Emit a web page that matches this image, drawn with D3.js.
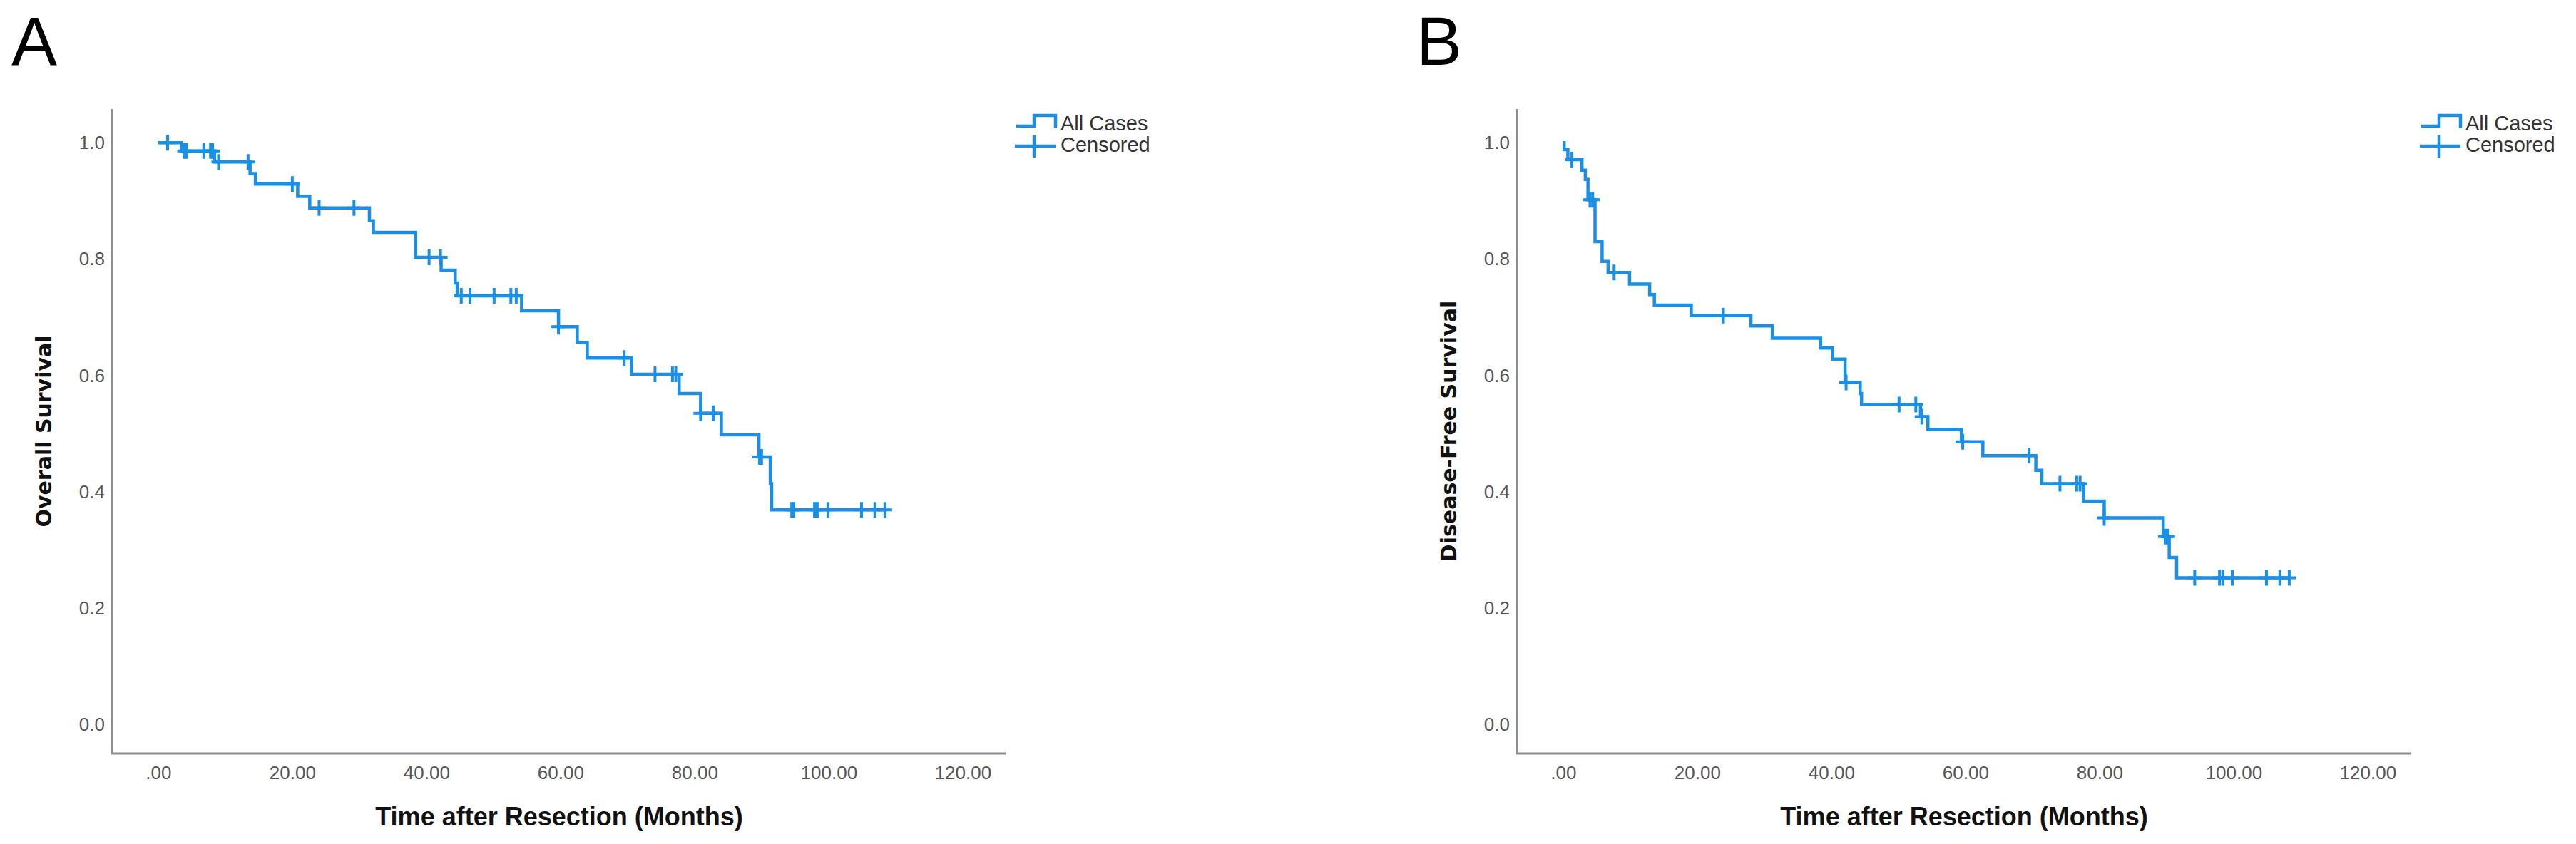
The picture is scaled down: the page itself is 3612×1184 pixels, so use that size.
<!DOCTYPE html>
<html>
<head>
<meta charset="utf-8">
<script src="https://cdn.jsdelivr.net/npm/d3@7"></script>
<style>
  html, body { margin: 0; padding: 0; background: #ffffff; }
  svg { display: block; }
</style>
</head>
<body>
<svg id="chart" width="3612" height="1184"></svg>
<script>
// ---------------- DATA ----------------
const timeTicks = [0, 20, 40, 60, 80, 100, 120];
const timeTickLabels = [".00", "20.00", "40.00", "60.00", "80.00", "100.00", "120.00"];
const survTicks = [0.0, 0.2, 0.4, 0.6, 0.8, 1.0];
const survTickLabels = ["0.0", "0.2", "0.4", "0.6", "0.8", "1.0"];

const panelLetters = ["A", "B"];
const yTitles = ["Overall Survival", "Disease-Free Survival"];
const xTitle = "Time after Resection (Months)";
const legendLabels = ["All Cases", "Censored"];

// Panel A: Overall survival (event times, survival after each event)
const osEventTimes = [3.5, 8.4, 13.7, 14.5, 20.8, 22.6, 31.5, 32.1, 38.4, 42.2, 44.3, 44.6, 54.2, 59.7, 62.5, 64.0, 70.6, 77.7, 80.9, 84.0, 89.6, 91.3, 91.5];
const osSurvival   = [0.986, 0.967, 0.947, 0.929, 0.908, 0.888, 0.866, 0.846, 0.803, 0.781, 0.759, 0.737, 0.711, 0.684, 0.657, 0.630, 0.602, 0.569, 0.535, 0.498, 0.460, 0.414, 0.369];
const osCensorTimes = [1.4, 3.9, 4.2, 6.8, 7.8, 8.1, 9.0, 13.4, 20.0, 24.0, 29.2, 40.4, 42.1, 45.2, 46.5, 50.1, 52.6, 53.4, 59.7, 69.5, 74.1, 76.7, 77.2, 80.9, 82.8, 89.7, 90.0, 94.5, 94.8, 97.9, 98.3, 99.9, 104.9, 106.9, 108.4];
const osEndTime = 108.4;

// Panel B: Disease-free survival
const dfsEventTimes = [0.14, 0.7, 2.8, 3.3, 3.7, 4.75, 5.8, 6.7, 9.9, 12.9, 13.6, 19.1, 28.0, 31.2, 38.4, 40.2, 42.05, 44.3, 44.5, 53.3, 54.4, 59.4, 62.6, 70.5, 71.4, 77.6, 80.7, 89.5, 90.4, 91.5];
const dfsSurvival   = [0.988, 0.971, 0.953, 0.937, 0.902, 0.830, 0.796, 0.777, 0.757, 0.739, 0.721, 0.703, 0.685, 0.664, 0.647, 0.628, 0.588, 0.569, 0.550, 0.529, 0.507, 0.486, 0.462, 0.437, 0.414, 0.384, 0.355, 0.323, 0.287, 0.252];
const dfsCensorTimes = [1.3, 4.0, 4.4, 7.6, 23.9, 42.2, 50.1, 52.6, 53.5, 59.6, 69.5, 74.1, 76.6, 77.1, 80.7, 89.8, 90.2, 94.2, 97.9, 98.4, 99.8, 104.9, 106.9, 108.3];
const dfsEndTime = 108.3;

// ---------------- DRAW ----------------
const svg = d3.select("#chart");
const blue = "#1a8fe5";
const axisGray = "#8e8e8e";

const panels = [
  { dx: 0,    letter: panelLetters[0], yTitle: yTitles[0], times: osEventTimes,  surv: osSurvival,  censors: osCensorTimes,  end: osEndTime },
  { dx: 1970, letter: panelLetters[1], yTitle: yTitles[1], times: dfsEventTimes, surv: dfsSurvival, censors: dfsCensorTimes, end: dfsEndTime }
];

const x = d3.scaleLinear().domain([-6.9, 126.5]).range([157, 1411]);
const y = d3.scaleLinear().domain([-0.05, 1.058]).range([1057, 153]);

panels.forEach(p => {
  const g = svg.append("g").attr("transform", `translate(${p.dx},0)`);

  // panel letter
  g.append("text")
    .attr("x", 16).attr("y", 91)
    .attr("font-family", "Liberation Sans, Arial, sans-serif")
    .attr("font-size", 96)
    .attr("fill", "#000")
    .text(p.letter);

  // axes lines
  g.append("line")
    .attr("x1", x.range()[0]).attr("x2", x.range()[0])
    .attr("y1", y.range()[1]).attr("y2", y.range()[0])
    .attr("stroke", axisGray).attr("stroke-width", 3);
  g.append("line")
    .attr("x1", x.range()[0] - 1.5).attr("x2", x.range()[1])
    .attr("y1", y.range()[0]).attr("y2", y.range()[0])
    .attr("stroke", axisGray).attr("stroke-width", 3);

  // x axis tick labels
  const xAxis = d3.axisBottom(x).tickValues(timeTicks)
    .tickFormat((d, i) => timeTickLabels[i]).tickSize(0).tickPadding(0);
  const xa = g.append("g").attr("transform", `translate(0,${y.range()[0]})`).call(xAxis);
  xa.select(".domain").remove();
  xa.selectAll("text")
    .attr("dy", null).attr("y", 36)
    .attr("font-family", "Liberation Sans, Arial, sans-serif")
    .attr("font-size", 26).attr("fill", "#555");

  // y axis tick labels
  const yAxis = d3.axisLeft(y).tickValues(survTicks)
    .tickFormat((d, i) => survTickLabels[i]).tickSize(0).tickPadding(10);
  const ya = g.append("g").attr("transform", `translate(${x.range()[0]},0)`).call(yAxis);
  ya.select(".domain").remove();
  ya.selectAll("text")
    .attr("font-family", "Liberation Sans, Arial, sans-serif")
    .attr("font-size", 26).attr("fill", "#555");

  // axis titles
  g.append("text")
    .attr("x", (x.range()[0] + x.range()[1]) / 2).attr("y", 1158)
    .attr("text-anchor", "middle")
    .attr("font-family", "Liberation Sans, Arial, sans-serif")
    .attr("font-weight", "bold").attr("font-size", 36).attr("fill", "#111")
    .text(xTitle);
  g.append("text")
    .attr("transform", `translate(72,${(y.range()[0] + y.range()[1]) / 2}) rotate(-90)`)
    .attr("text-anchor", "middle")
    .attr("font-family", "DejaVu Sans, sans-serif")
    .attr("font-weight", "bold").attr("font-size", 30).attr("fill", "#111")
    .text(p.yTitle);

  // KM step curve
  const pts = [[0, 1.0]].concat(p.times.map((t, i) => [t, p.surv[i]]));
  pts.push([p.end, p.surv[p.surv.length - 1]]);
  const line = d3.line().x(d => x(d[0])).y(d => y(d[1])).curve(d3.curveStepAfter);
  g.append("path").datum(pts)
    .attr("d", line)
    .attr("fill", "none").attr("stroke", blue)
    .attr("stroke-width", 4.5).attr("stroke-linejoin", "miter");

  // censor marks
  const survAt = t => {
    const i = d3.bisectRight(p.times, t);
    return i === 0 ? 1.0 : p.surv[i - 1];
  };
  g.append("g").selectAll("path").data(p.censors).join("path")
    .attr("d", t => {
      const cx = x(t), cy = y(survAt(t));
      return `M${cx - 10},${cy}H${cx + 10}M${cx},${cy - 11}V${cy + 11}`;
    })
    .attr("fill", "none").attr("stroke", blue).attr("stroke-width", 4);

  // legend
  const lg = g.append("g");
  lg.append("path")
    .attr("d", "M1425,177H1450V162H1480V180")
    .attr("fill", "none").attr("stroke", blue).attr("stroke-width", 4.5);
  lg.append("path")
    .attr("d", "M1423,205H1480M1450,190V221")
    .attr("fill", "none").attr("stroke", blue).attr("stroke-width", 4.5);
  lg.selectAll("text").data(legendLabels).join("text")
    .attr("x", 1487).attr("y", (d, i) => 183 + i * 30)
    .attr("font-family", "Liberation Sans, Arial, sans-serif")
    .attr("font-size", 29).attr("fill", "#333")
    .text(d => d);
});
</script>
</body>
</html>
